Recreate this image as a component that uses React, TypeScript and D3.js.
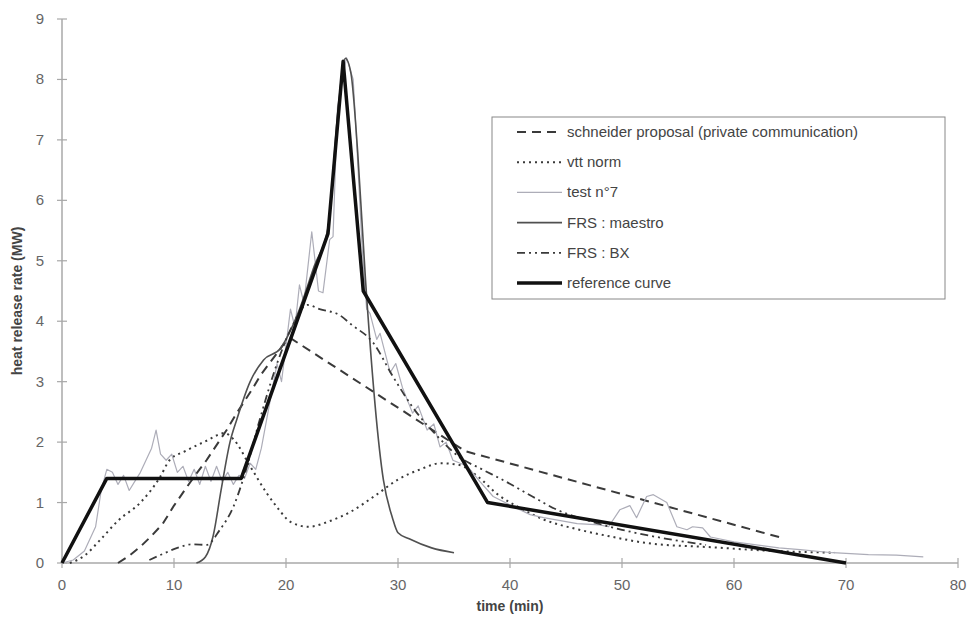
import React from "react";
import * as d3 from "d3";

type P = [number, number];

const xTicks = [0, 10, 20, 30, 40, 50, 60, 70, 80];
const yTicks = [0, 1, 2, 3, 4, 5, 6, 7, 8, 9];

const schneider: P[] = [
  [5, 0], [6, 0.12], [7, 0.27], [8, 0.45], [9, 0.65], [10, 0.95], [11.2, 1.27], [12, 1.48],
  [12.9, 1.7], [13.8, 1.95], [14.7, 2.2], [15.5, 2.45], [16.2, 2.65], [17, 2.88], [17.7, 3.1],
  [18.5, 3.3], [19.2, 3.47], [19.8, 3.62], [20.4, 3.72], [36, 1.85], [64.4, 0.41],
];

const vtt: P[] = [
  [0.7, 0], [2, 0.12], [3.4, 0.38], [5, 0.7], [7, 1.0], [8.75, 1.42], [9.6, 1.7], [11, 1.85],
  [13, 2.03], [14.5, 2.15], [15.3, 2.05], [16.8, 1.6], [18.3, 1.15], [19.3, 0.9], [20.4, 0.68],
  [22, 0.6], [24, 0.7], [25.7, 0.84], [28, 1.12], [30, 1.38], [32, 1.55], [33.8, 1.65],
  [35.5, 1.62], [37, 1.45], [39, 1.12], [41, 0.9], [43, 0.72], [46.2, 0.55], [49.2, 0.43],
  [52.2, 0.33], [58, 0.26], [63.5, 0.2], [69, 0.17],
];

const test7: P[] = [
  [0, 0], [1, 0.05], [2, 0.2], [3, 0.6], [3.5, 1.2], [4, 1.55], [4.5, 1.5], [5, 1.3],
  [5.5, 1.45], [6, 1.2], [6.5, 1.35], [7, 1.5], [7.5, 1.7], [8, 1.9], [8.4, 2.2], [8.8, 1.8],
  [9.3, 1.7], [9.8, 1.8], [10.3, 1.5], [10.8, 1.6], [11.3, 1.35], [11.8, 1.55], [12.3, 1.3],
  [12.8, 1.6], [13.3, 1.35], [13.8, 1.6], [14.3, 1.35], [14.8, 1.5], [15.3, 1.3], [15.8, 1.45],
  [16.3, 1.4], [16.8, 1.65], [17.3, 1.55], [17.8, 1.9], [18.3, 2.4], [18.8, 2.9], [19.2, 3.3],
  [19.6, 3.0], [20, 3.6], [20.4, 4.2], [20.8, 3.9], [21.2, 4.6], [21.6, 4.3], [22.3, 5.48],
  [22.9, 4.5], [23.3, 4.47], [23.9, 5.35], [24.2, 5.4], [24.6, 7.55], [25.4, 8.36], [26, 8.0],
  [26.3, 7.0], [26.8, 5.2], [27.2, 4.2], [27.5, 4.13], [28.1, 3.7], [28.4, 3.8], [29.3, 3.15],
  [29.8, 3.3], [30.4, 2.9], [31.3, 2.48], [31.8, 2.6], [32.6, 2.2], [33.2, 2.3], [33.75, 1.92],
  [34.3, 2.0], [34.9, 1.7], [36.2, 1.6], [37.3, 1.35], [38.5, 1.1], [40, 0.96], [41.8, 0.8],
  [43, 0.75], [44.5, 0.7], [46, 0.65], [48, 0.63], [48.8, 0.6], [49.8, 0.88], [50.7, 0.95],
  [51.3, 0.75], [52.2, 1.1], [52.8, 1.13], [54, 1.0], [54.9, 0.6], [55.8, 0.55], [56.3, 0.6],
  [57.2, 0.58], [57.9, 0.43], [60, 0.35], [62, 0.3], [64, 0.25], [65.9, 0.22], [68.8, 0.17],
  [72, 0.14], [74.5, 0.13], [76.9, 0.1],
];

const maestro: P[] = [
  [12, 0], [12.8, 0.1], [13.5, 0.45], [14.2, 1.2], [15, 2.0], [15.6, 2.37], [16.8, 3.0],
  [18, 3.36], [19.5, 3.55], [21, 4.1], [22.5, 4.9], [23.8, 5.6], [24.6, 7.4], [25.3, 8.35],
  [25.8, 8.1], [26.4, 6.8], [27.1, 4.68], [28.7, 1.37], [29.5, 0.75], [30, 0.5], [31, 0.4],
  [33, 0.25], [35, 0.17],
];

const bx: P[] = [
  [7.8, 0.05], [9, 0.15], [10.3, 0.25], [11.7, 0.31], [12.9, 0.3], [14.1, 0.55], [15.3, 0.93],
  [16.2, 1.4], [17.7, 2.4], [19.2, 3.3], [20.5, 3.9], [21.9, 4.27], [23, 4.2], [24.8, 4.1],
  [25.8, 3.95], [27.8, 3.64], [29.5, 3.1], [31.3, 2.58], [33.5, 2.1], [35.5, 1.75], [37.5, 1.55],
  [39.4, 1.37], [42, 1.1], [44.2, 0.88], [47, 0.7], [50, 0.55], [54, 0.4], [57.5, 0.3],
];

const reference: P[] = [
  [0, 0], [4, 1.4], [16, 1.4], [23.75, 5.45], [25.1, 8.3], [26.9, 4.5], [38, 1.0], [70, 0],
];

const series = [
  { name: "schneider proposal (private communication)", data: schneider, color: "#3a3a3a", width: 2, dash: "9,6", curve: d3.curveLinear },
  { name: "vtt norm", data: vtt, color: "#3a3a3a", width: 2, dash: "2,4", curve: d3.curveMonotoneX },
  { name: "test n°7", data: test7, color: "#adadb8", width: 1.2, dash: null, curve: d3.curveLinear },
  { name: "FRS : maestro", data: maestro, color: "#505050", width: 1.6, dash: null, curve: d3.curveMonotoneX },
  { name: "FRS : BX", data: bx, color: "#3a3a3a", width: 1.8, dash: "8,4,2,4,2,4", curve: d3.curveMonotoneX },
  { name: "reference curve", data: reference, color: "#111", width: 3.5, dash: null, curve: d3.curveLinear },
];

export default function App() {
  const W = 968, H = 630;
  const x = d3.scaleLinear().domain([0, 80]).range([62, 958]);
  const y = d3.scaleLinear().domain([0, 9]).range([563, 19]);
  const font = "Liberation Sans, Arial, sans-serif";
  const axisColor = "#a8a8a8";
  const lg = { x: 492, y: 117, w: 453, h: 182 };
  return (
    <svg width={W} height={H} style={{ position: "absolute", left: 0, top: 0, background: "#fff" }}>
      {/* axes */}
      <line x1={x(0)} x2={x(80)} y1={y(0)} y2={y(0)} stroke={axisColor} strokeWidth={1.5} />
      <line x1={x(0)} x2={x(0)} y1={y(0)} y2={y(9)} stroke={axisColor} strokeWidth={1.5} />
      {xTicks.map((t) => (
        <g key={"x" + t}>
          <line x1={x(t)} x2={x(t)} y1={y(0) - 5} y2={y(0) + 5} stroke={axisColor} strokeWidth={1.2} />
          <text x={x(t)} y={y(0) + 27} textAnchor="middle" fontFamily={font} fontSize={15} fill="#666">{t}</text>
        </g>
      ))}
      {yTicks.map((t) => (
        <g key={"y" + t}>
          <line x1={x(0) - 5} x2={x(0) + 5} y1={y(t)} y2={y(t)} stroke={axisColor} strokeWidth={1.2} />
          <text x={x(0) - 18} y={y(t) + 5} textAnchor="end" fontFamily={font} fontSize={15} fill="#666">{t}</text>
        </g>
      ))}
      <text x={510} y={611} textAnchor="middle" fontFamily={font} fontSize={14} fontWeight="bold" fill="#444">time (min)</text>
      <text transform={`translate(22,${(y(0) + y(9)) / 2 + 10}) rotate(-90)`} textAnchor="middle" fontFamily={font} fontSize={14} fontWeight="bold" fill="#444">heat release rate (MW)</text>

      {/* series */}
      {series.map((s) => {
        const line = d3.line<P>().x((d) => x(d[0])).y((d) => y(d[1])).curve(s.curve);
        return (
          <path key={s.name} d={line(s.data) || ""} fill="none" stroke={s.color} strokeWidth={s.width}
            strokeDasharray={s.dash || undefined} strokeLinejoin="round" />
        );
      })}

      {/* legend */}
      <rect x={lg.x} y={lg.y} width={lg.w} height={lg.h} fill="#fff" stroke="#888" strokeWidth={1} />
      {series.map((s, i) => {
        const ly = 132 + i * 30.2;
        return (
          <g key={"lg" + s.name}>
            <line x1={517} x2={562} y1={ly} y2={ly} stroke={s.color} strokeWidth={s.width}
              strokeDasharray={s.dash || undefined} />
            <text x={567} y={ly + 5} fontFamily={font} fontSize={15} fill="#444">{s.name}</text>
          </g>
        );
      })}
    </svg>
  );
}
